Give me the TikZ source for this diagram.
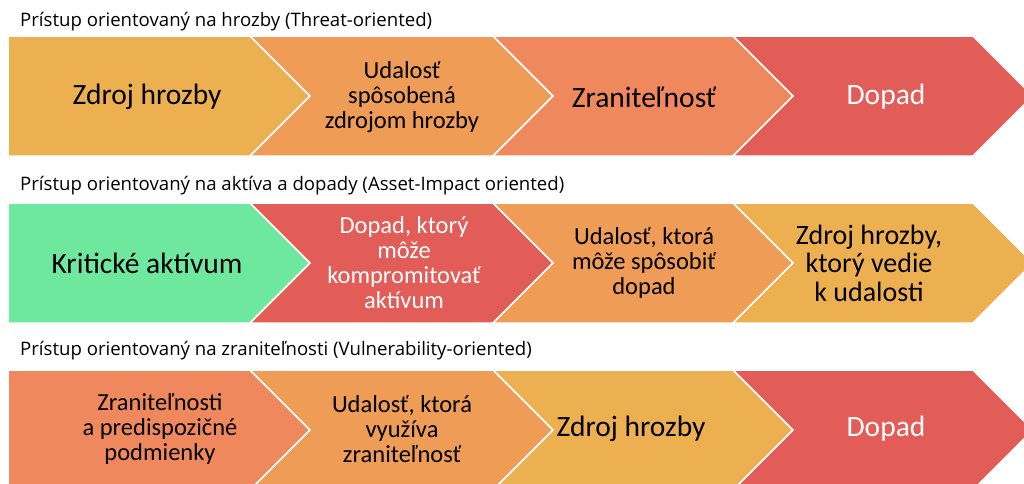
\documentclass[tikz,border=0pt]{standalone}
\usepackage{fontspec}
\setmainfont{Carlito}
\newfontfamily\titlefont{Open Sans}
\definecolor{cYel}{RGB}{237,176,80}
\definecolor{cOra}{RGB}{238,156,86}
\definecolor{cSal}{RGB}{239,137,93}
\definecolor{cRed}{RGB}{226,93,88}
\definecolor{cGrn}{RGB}{110,232,158}
\tikzset{
  chev/.style={draw=white, line width=1.5pt, line join=miter},
  rowtitle/.style={anchor=base west, inner sep=0pt, font=\titlefont\fontsize{18.6}{22}\selectfont},
  big/.style={align=center, inner sep=0pt, font=\fontsize{29.5}{31}\selectfont},
  mid/.style={align=center, inner sep=0pt, font=\fontsize{24.5}{25}\selectfont},
}
% first chevron: flat left end
\newcommand{\firstchev}[4]{% x0, x1, ymid, colour
  \fill[chev, fill=#4] (#1,{#3-60}) -- (#2,{#3-60}) -- ({#2+60},#3) -- (#2,{#3+60}) -- (#1,{#3+60}) -- cycle;}
\newcommand{\nextchev}[4]{% x0, x1, ymid, colour
  \fill[chev, fill=#4] (#1,{#3-60}) -- (#2,{#3-60}) -- ({#2+60},#3) -- (#2,{#3+60}) -- (#1,{#3+60}) -- ({#1+60},#3) -- cycle;}
\begin{document}
\begin{tikzpicture}[x=1pt,y=-1pt]
\useasboundingbox (0,0) rectangle (1024,483);
\clip (0,0) rectangle (1024,483);
% Row 1
\node[rowtitle] (t1) at (20,26) {Prístup orientovaný na hrozby (Threat-oriented)};
\firstchev{8}{250}{96}{cYel}
\nextchev{250}{493}{96}{cOra}
\nextchev{493}{733}{96}{cSal}
\nextchev{733}{973}{96}{cRed}
\node[big] (a1) at (147,97) {Zdroj hrozby};
\node[mid] (a2) at (402,97) {Udalosť\\spôsobená\\zdrojom hrozby};
\node[big] (a3) at (644,97) {Zraniteľnosť};
\node[big, text=white] (a4) at (886,97) {Dopad};
% Row 2
\node[rowtitle] (t2) at (20,190) {Prístup orientovaný na aktíva a dopady (Asset-Impact oriented)};
\firstchev{8}{250}{263}{cGrn}
\nextchev{250}{493}{263}{cRed}
\nextchev{493}{733}{263}{cOra}
\nextchev{733}{973}{263}{cYel}
\node[big] (b1) at (147,263) {Kritické aktívum};
\node[mid, text=white] (b2) at (404,263) {Dopad, ktorý\\môže\\kompromitovať\\aktívum};
\node[mid] (b3) at (644,263) {Udalosť, ktorá\\môže spôsobiť\\dopad};
\node[big, font=\fontsize{28}{28.5}\selectfont] (b4) at (869,263) {Zdroj hrozby,\\ktorý vedie\\k udalosti};
% Row 3
\node[rowtitle] (t3) at (20,355) {Prístup orientovaný na zraniteľnosti (Vulnerability-oriented)};
\firstchev{8}{250}{430}{cSal}
\nextchev{250}{493}{430}{cOra}
\nextchev{493}{733}{430}{cYel}
\nextchev{733}{973}{430}{cRed}
\node[mid] (c1) at (160,429) {Zraniteľnosti\\a predispozičné\\podmienky};
\node[mid] (c2) at (402,429) {Udalosť, ktorá\\využíva\\zraniteľnosť};
\node[big] (c3) at (631,429) {Zdroj hrozby};
\node[big, text=white] (c4) at (886,429) {Dopad};
\end{tikzpicture}
\end{document}
